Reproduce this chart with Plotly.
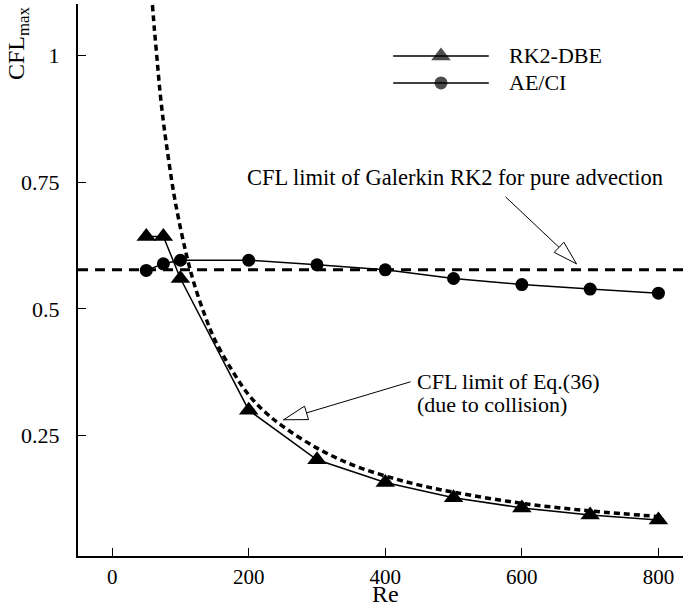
import math
import plotly.graph_objects as go

# ---------------- data ----------------
re_rk2 = [50, 75, 100, 200, 300, 400, 500, 600, 700, 800]
cfl_rk2 = [0.643, 0.643, 0.560, 0.300, 0.202, 0.157, 0.127, 0.107, 0.093, 0.083]

re_ae = [50, 75, 100, 200, 300, 400, 500, 600, 700, 800]
cfl_ae = [0.576, 0.589, 0.596, 0.596, 0.587, 0.577, 0.560, 0.548, 0.539, 0.531]

re_eq36 = [59, 62, 66, 70, 75, 80, 90, 100, 110, 120, 135, 150, 175, 200,
           225, 250, 300, 350, 400, 450, 500, 600, 700, 800]
cfl_eq36 = [1.10, 1.05, 0.99, 0.93, 0.87, 0.82, 0.73, 0.66, 0.60, 0.55, 0.49,
            0.44, 0.38, 0.33, 0.295, 0.268, 0.225, 0.193, 0.170, 0.152, 0.138,
            0.116, 0.101, 0.090]

cfl_galerkin = 0.577
x_range = [-50, 836]
y_range = [0.012, 1.102]

x_ticks = [0, 200, 400, 600, 800]
y_ticks = [0.25, 0.5, 0.75, 1]
y_ticklabels = ["0.25", "0.5", "0.75", "1"]

FONT = "Liberation Serif, Times New Roman, DejaVu Serif, serif"
FS = 22

fig = go.Figure()

# horizontal Galerkin limit
fig.add_trace(go.Scatter(x=x_range, y=[cfl_galerkin, cfl_galerkin], mode="lines",
                         line=dict(color="black", width=3, dash="10px,7px"),
                         showlegend=False, hoverinfo="skip"))
# Eq.(36) curve
fig.add_trace(go.Scatter(x=re_eq36, y=cfl_eq36, mode="lines", line_shape="spline",
                         line=dict(color="black", width=3.5, dash="6px,4px"),
                         showlegend=False, hoverinfo="skip"))
# RK2-DBE
fig.add_trace(go.Scatter(x=re_rk2, y=cfl_rk2, mode="lines+markers", name="RK2-DBE",
                         line=dict(color="black", width=1.5),
                         marker=dict(symbol="triangle-up", size=17, color="black"),
                         showlegend=False))
# AE/CI
fig.add_trace(go.Scatter(x=re_ae, y=cfl_ae, mode="lines+markers", name="AE/CI",
                         line=dict(color="black", width=1.5),
                         marker=dict(symbol="circle", size=13, color="black"),
                         showlegend=False))

# ---------------- custom legend (paper-space overlay axes) ----------------
legend_rows = [("RK2-DBE", "triangle-up", 17, 0.906), ("AE/CI", "circle", 13, 0.857)]
lx0, lxm, lx1, ltext = 0.521, 0.600, 0.679, 0.709
for label, sym, sz, ly in legend_rows:
    fig.add_trace(go.Scatter(x=[lx0, lxm, lx1], y=[ly, ly, ly], mode="lines+markers",
                             xaxis="x2", yaxis="y2",
                             line=dict(color="black", width=1.5),
                             marker=dict(symbol=sym, size=[0, sz, 0], color="black",
                                         line=dict(width=0)),
                             showlegend=False, hoverinfo="skip"))
    fig.add_annotation(xref="paper", yref="paper", x=ltext, y=ly, text=label,
                       showarrow=False, xanchor="left", yanchor="middle",
                       font=dict(family=FONT, size=FS, color="black"))

# ---------------- annotations with hollow arrow heads ----------------
shapes = []


def add_arrow(tip_x, tip_y, dx, dy, L=24, w=7):
    shapes.append(dict(type="line", xref="x", yref="y", xsizemode="pixel", ysizemode="pixel",
                       xanchor=tip_x, yanchor=tip_y, x0=0, y0=0, x1=dx, y1=dy,
                       line=dict(color="black", width=1)))
    n = math.hypot(dx, dy)
    ux, uy = dx / n, dy / n
    bx, by = L * ux, L * uy
    px, py = -uy * w, ux * w
    path = "M0,0 L{:.2f},{:.2f} L{:.2f},{:.2f} Z".format(bx + px, by + py, bx - px, by - py)
    shapes.append(dict(type="path", xref="x", yref="y", xsizemode="pixel", ysizemode="pixel",
                       xanchor=tip_x, yanchor=tip_y, path=path,
                       fillcolor="white", line=dict(color="black", width=1)))


add_arrow(680, 0.589, -71, 67)
add_arrow(251, 0.281, 127, 38)

fig.add_annotation(xref="paper", yref="paper", x=0.276, y=0.685,
                   text="CFL limit of Galerkin RK2 for pure advection",
                   showarrow=False, xanchor="left", yanchor="middle",
                   font=dict(family=FONT, size=22.5, color="black"))
fig.add_annotation(xref="paper", yref="paper", x=0.557, y=0.317,
                   text="CFL limit of Eq.(36)",
                   showarrow=False, xanchor="left", yanchor="middle",
                   font=dict(family=FONT, size=FS, color="black"))
fig.add_annotation(xref="paper", yref="paper", x=0.557, y=0.274,
                   text="(due to collision)",
                   showarrow=False, xanchor="left", yanchor="middle",
                   font=dict(family=FONT, size=FS, color="black"))

# y-axis title
fig.add_annotation(xref="paper", yref="paper", x=-0.099, y=1.0,
                   text="CFL<sub>max</sub>", textangle=-90,
                   showarrow=False, xanchor="center", yanchor="top",
                   font=dict(family=FONT, size=24, color="black"))

# x-axis title
fig.add_annotation(xref="x", yref="paper", x=400, y=-0.096,
                   text="Re", showarrow=False, xanchor="center", yanchor="bottom",
                   font=dict(family=FONT, size=24, color="black"))

fig.update_layout(
    width=683, height=609,
    margin=dict(l=78, r=0, t=4, b=53),
    paper_bgcolor="white", plot_bgcolor="white",
    font=dict(family=FONT, size=FS, color="black"),
    shapes=shapes,
    xaxis=dict(range=x_range, tickvals=x_ticks, ticks="inside", ticklen=8, tickwidth=1,
               tickcolor="black", showline=True, linecolor="black", linewidth=2,
               showgrid=False, zeroline=False, ticklabelstandoff=1,
               tickfont=dict(family=FONT, size=21)),
    yaxis=dict(range=y_range, tickvals=y_ticks, ticktext=y_ticklabels, ticks="inside",
               ticklen=8, tickwidth=1, tickcolor="black", showline=True,
               linecolor="black", linewidth=2, showgrid=False, zeroline=False,
               ticklabelstandoff=12, tickfont=dict(family=FONT, size=FS)),
    xaxis2=dict(range=[0, 1], overlaying="x", visible=False, anchor="y2"),
    yaxis2=dict(range=[0, 1], overlaying="y", visible=False, anchor="x2"),
)

fig.write_html("out.html")
